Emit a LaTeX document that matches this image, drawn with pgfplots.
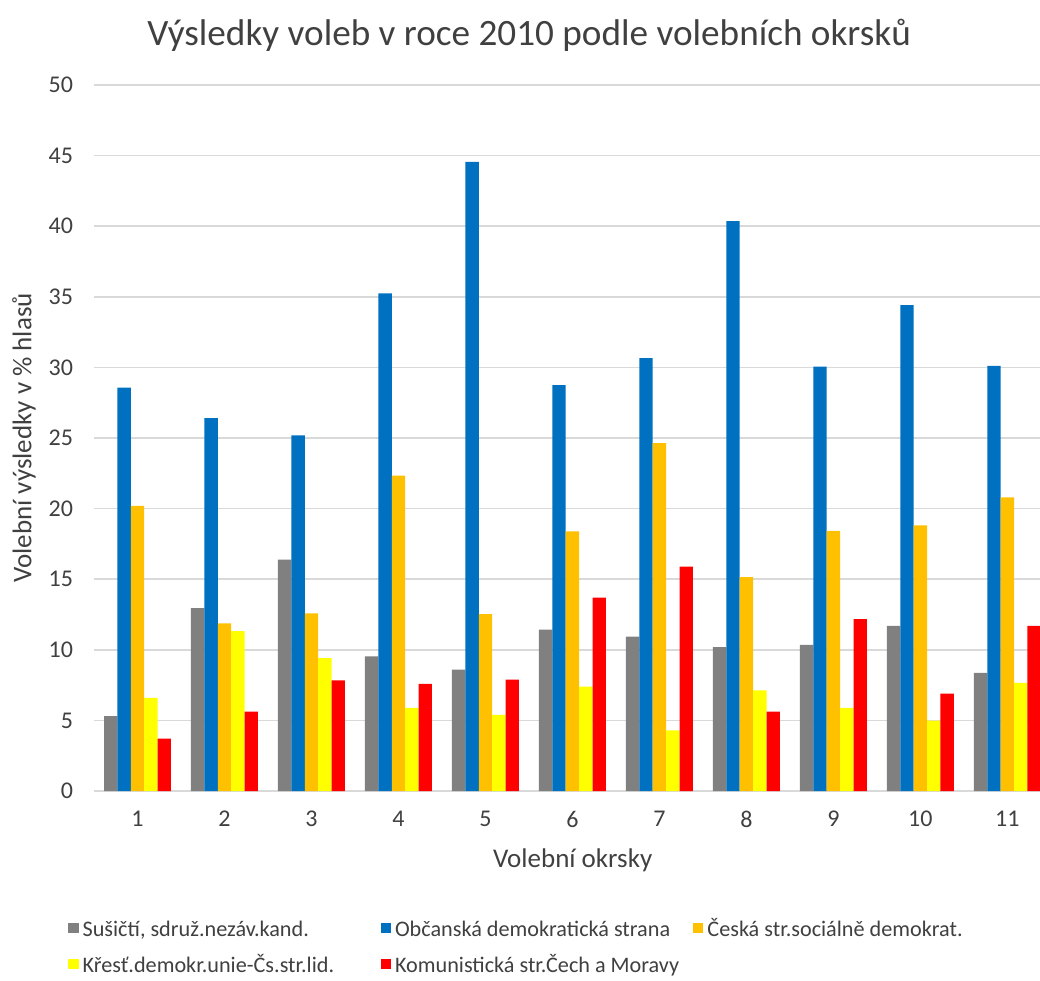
\documentclass[border=0pt]{standalone}
\usepackage{fontspec}
\setmainfont{Carlito}
\usepackage{pgfplots}
\pgfplotsset{compat=1.18}
\definecolor{gridgray}{HTML}{D9D9D9}
\definecolor{txt}{HTML}{404040}
\definecolor{cGray}{HTML}{808080}
\definecolor{cBlue}{HTML}{0070C0}
\definecolor{cOrange}{HTML}{FFC000}
\definecolor{cYellow}{HTML}{FFFF00}
\definecolor{cRed}{HTML}{FF0000}
% fixed-size legend text so the columns and rows line up
\newcommand{\legtext}[1]{\makebox[147pt][l]{\rule[-0.3em]{0pt}{1.2em}#1}}

\begin{document}
\begin{tikzpicture}
\path[use as bounding box] (-47pt,-95pt) rectangle (473pt,395.5pt);
\begin{axis}[
    at={(0pt,0pt)}, anchor=origin,
    scale only axis,
    width=473pt, height=353pt,
    xmin=0.5, xmax=11.375,
    ymin=0, ymax=50,
    ytick distance=5,
    xtick={1,...,11},
    major tick length=0pt,
    axis line style={draw=none},
    ymajorgrids,
    grid style={draw=gridgray, line width=0.75pt},
    ybar=0pt, bar width=0.154,
    /pgf/number format/assume math mode=true,
    tick label style={font=\fontsize{12}{14}\selectfont, text=txt},
    yticklabel style={xshift=-7pt},
    xticklabel style={yshift=-6.5pt},
    every axis title shift=0pt,
    title={Výsledky voleb v roce 2010 podle volebních okrsků},
    title style={at={(axis description cs:0.46,1.071)}, anchor=center,
                 font=\fontsize{18.6}{22}\selectfont, text=txt},
    xlabel={Volební okrsky},
    ylabel={Volební výsledky v \% hlasů},
    label style={font=\fontsize{13.5}{16}\selectfont, text=txt},
    every axis x label/.append style={at={(axis description cs:0.506,-0.098)}, anchor=center},
    every axis y label/.append style={at={(axis description cs:-0.074,0.5)}, anchor=center},
    legend columns=3,
    legend cell align=left,
    legend image code/.code={\fill[#1] (0pt,-2.6pt) rectangle (5.2pt,2.6pt);},
    legend style={draw=none, at={(axis description cs:-0.034,-0.166)}, anchor=north west,
                  font=\fontsize{11.1}{13}\selectfont, text=txt,
                  row sep=2.5pt},
]
\addplot[fill=cGray, draw=none] coordinates {
    (1,5.30) (2,12.96) (3,16.38) (4,9.54) (5,8.59) (6,11.43)
    (7,10.94) (8,10.19) (9,10.35) (10,11.69) (11,8.37)};
\addlegendentry{\legtext{Sušičtí, sdruž.nezáv.kand.}}
\addplot[fill=cBlue, draw=none] coordinates {
    (1,28.56) (2,26.41) (3,25.18) (4,35.25) (5,44.56) (6,28.74)
    (7,30.66) (8,40.36) (9,30.05) (10,34.41) (11,30.11)};
\addlegendentry{\legtext{Občanská demokratická strana}}
\addplot[fill=cOrange, draw=none] coordinates {
    (1,20.19) (2,11.87) (3,12.58) (4,22.33) (5,12.53) (6,18.39)
    (7,24.64) (8,15.14) (9,18.42) (10,18.82) (11,20.80)};
\addlegendentry{\legtext{Česká str.sociálně demokrat.}}
\addplot[fill=cYellow, draw=none] coordinates {
    (1,6.60) (2,11.32) (3,9.41) (4,5.89) (5,5.40) (6,7.39)
    (7,4.30) (8,7.13) (9,5.89) (10,4.98) (11,7.65)};
\addlegendentry{\legtext{Křesť.demokr.unie-Čs.str.lid.}}
\addplot[fill=cRed, draw=none] coordinates {
    (1,3.71) (2,5.63) (3,7.83) (4,7.58) (5,7.88) (6,13.70)
    (7,15.89) (8,5.63) (9,12.17) (10,6.90) (11,11.69)};
\addlegendentry{\legtext{Komunistická str.Čech a Moravy}}
\end{axis}
\end{tikzpicture}
\end{document}
